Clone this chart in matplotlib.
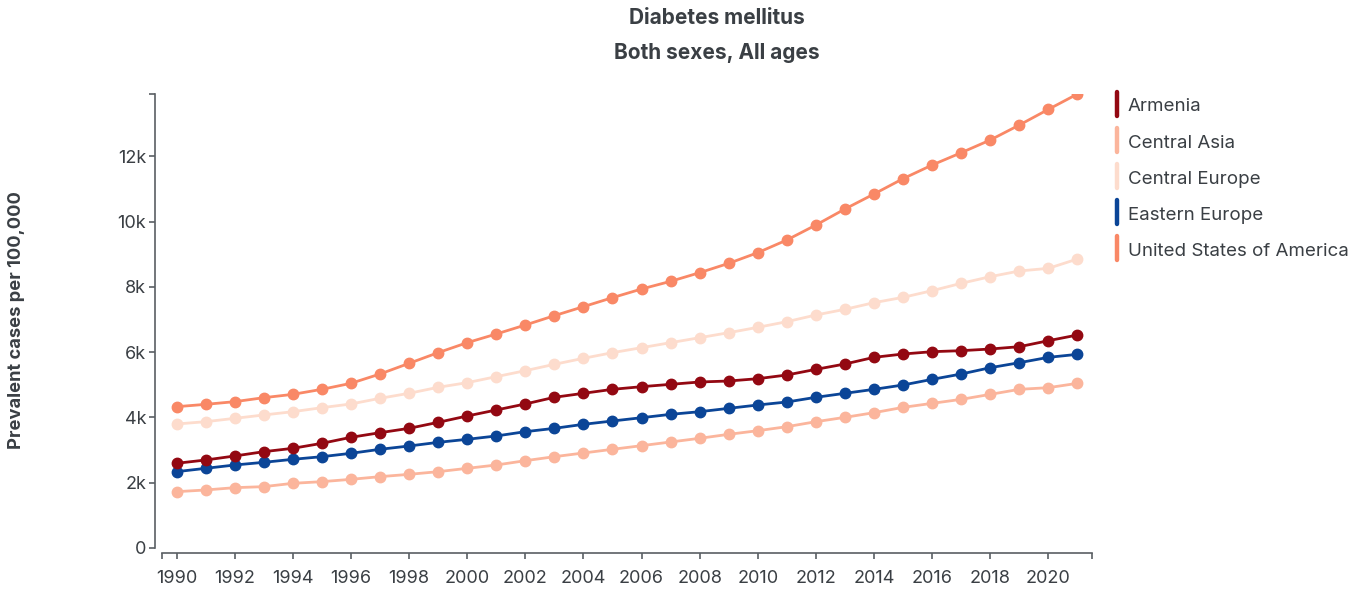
import numpy as np
import matplotlib.pyplot as plt
from matplotlib.lines import Line2D

plt.rcParams['font.family'] = ['Inter', 'DejaVu Sans']

years = list(range(1990, 2022))

names = ["Armenia", "Central Asia", "Central Europe", "Eastern Europe",
         "United States of America"]
colors = ["#930812", "#fbb59c", "#fddccd", "#0b4597", "#f98866"]

armenia = [2594, 2695, 2818, 2950, 3053, 3206, 3390, 3532, 3665, 3849,
           4043, 4227, 4411, 4616, 4738, 4860, 4941, 5013, 5085, 5115,
           5186, 5299, 5472, 5636, 5840, 5942, 6013, 6044, 6095, 6166,
           6350, 6524]
central_asia = [1725, 1777, 1848, 1879, 1981, 2032, 2103, 2185, 2256, 2338,
                2440, 2542, 2674, 2797, 2910, 3023, 3134, 3247, 3360, 3482,
                3593, 3716, 3869, 4002, 4145, 4308, 4431, 4553, 4706, 4860,
                4911, 5044]
central_europe = [3798, 3869, 3971, 4074, 4175, 4298, 4411, 4585, 4738, 4922,
                  5064, 5248, 5431, 5626, 5810, 5983, 6136, 6289, 6442, 6595,
                  6759, 6932, 7137, 7311, 7515, 7678, 7882, 8107, 8311, 8485,
                  8566, 8852]
eastern_europe = [2338, 2440, 2542, 2624, 2716, 2797, 2900, 3023, 3124, 3236,
                  3329, 3431, 3563, 3665, 3788, 3890, 3991, 4094, 4175, 4278,
                  4380, 4472, 4616, 4738, 4860, 4993, 5166, 5329, 5523, 5676,
                  5840, 5932]
usa = [4328, 4400, 4482, 4604, 4706, 4860, 5044, 5329, 5656, 5983,
       6289, 6554, 6830, 7116, 7392, 7668, 7933, 8168, 8433, 8719,
       9046, 9434, 9893, 10384, 10843, 11313, 11731, 12108, 12497, 12956,
       13436, 13906]

series = [armenia, central_asia, central_europe, eastern_europe, usa]

yticks = [0, 2000, 4000, 6000, 8000, 10000, 12000]
ytick_labels = ["0", "2k", "4k", "6k", "8k", "10k", "12k"]
xticks = list(range(1990, 2021, 2))

txt = "#3a3f44"
axc = "#5a5f64"

fig = plt.figure(figsize=(13.68, 5.93), dpi=100)
ax = fig.add_axes([162 / 1368, 1 - 548 / 593, 930 / 1368, 454 / 593])

# draw lightest first so darker lines stay on top
order = [2, 1, 4, 3, 0]
for i in order:
    ax.plot(years, series[i], color=colors[i], lw=2.0, marker='o',
            markersize=7.5, zorder=3)

ymax = max(max(s) for s in series)
ax.set_xlim(1989.5, 2021.5)
ax.set_ylim(0, ymax)

# d3-like detached axes (offsets in points)
for s in ['top', 'right']:
    ax.spines[s].set_visible(False)
ax.spines['left'].set_position(('outward', 5))
ax.spines['bottom'].set_position(('outward', 3.6))
for s in ['left', 'bottom']:
    ax.spines[s].set_color(axc)
    ax.spines[s].set_linewidth(1.2)

ax.set_yticks(yticks)
ax.set_yticklabels(ytick_labels)
ax.set_yticks([ymax], minor=True)
ax.set_xticks(xticks)
ax.set_xticklabels([str(x) for x in xticks])
ax.set_xticks([1989.5, 2021.5], minor=True)
ax.tick_params(axis='both', which='both', color=axc, width=1.2, length=4.5,
               labelcolor=txt, labelsize=13)
ax.tick_params(axis='y', pad=2)
ax.tick_params(axis='x', pad=8)

fig.text(717 / 1368, 1 - 18 / 593, "Diabetes mellitus", ha='center',
         va='center', fontsize=15, fontweight='bold', color=txt)
fig.text(717 / 1368, 1 - 53 / 593, "Both sexes, All ages", ha='center',
         va='center', fontsize=15, fontweight='bold', color=txt)
fig.text(17 / 1368, 1 - 320 / 593, "Prevalent cases per 100,000",
         rotation=90, ha='center', va='center', fontsize=13.2,
         fontweight='bold', color=txt)

# legend: coloured bars + labels
for k, name in enumerate(names):
    yc = 104 + 36 * k
    fig.add_artist(Line2D([1117 / 1368, 1117 / 1368],
                          [1 - (yc - 12) / 593, 1 - (yc + 12) / 593],
                          color=colors[k], lw=3.2, solid_capstyle='round'))
    fig.text(1128 / 1368, 1 - (yc + 3) / 593, name, ha='left', va='center',
             fontsize=13.5, color=txt)

fig.savefig("out.png", dpi=100)
